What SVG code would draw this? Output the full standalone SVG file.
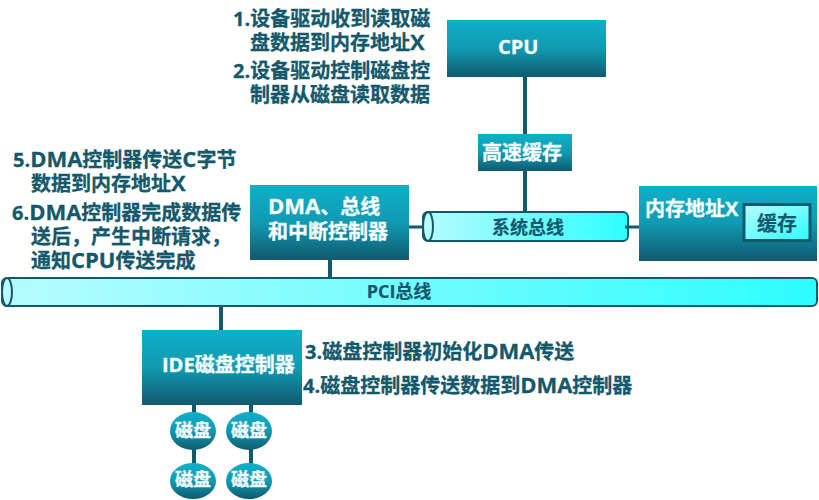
<svg xmlns="http://www.w3.org/2000/svg" width="819" height="500" viewBox="0 0 819 500">
  <defs>
    <linearGradient id="box" x1="0" y1="0" x2="0" y2="1">
      <stop offset="0" stop-color="#10b0c8"/>
      <stop offset="0.5" stop-color="#109ab2"/>
      <stop offset="1" stop-color="#115a6e"/>
    </linearGradient>
    <linearGradient id="bus" x1="0" y1="0" x2="1" y2="0">
      <stop offset="0" stop-color="#b8fcff"/>
      <stop offset="1" stop-color="#2cfdff"/>
    </linearGradient>
    <linearGradient id="chip" x1="0" y1="0" x2="1" y2="1">
      <stop offset="0" stop-color="#b8fcff"/>
      <stop offset="1" stop-color="#2cfdff"/>
    </linearGradient>
  </defs>
  <style>
    text { font-family: "Open Sans", "Noto Sans CJK SC", sans-serif; font-weight: 700; }
    .note { font-size: 20px; fill: #14596b; stroke: #14596b; stroke-width: 0.3px; }
    .head { font-size: 20px; fill: #ffffff; stroke: #d8f4f8; stroke-width: 0.4px; }
    .disk { font-size: 18px; fill: #ffffff; text-anchor: middle; stroke: #d8f4f8; stroke-width: 0.4px; }
    .bus-label { font-size: 18px; fill: #14596b; text-anchor: middle; stroke: #14596b; stroke-width: 0.2px; }
    .lat { font-size: 22px; }
    .box { fill: url(#box); }
    .tube { fill: url(#bus); stroke: #14596b; stroke-width: 2px; }
    .cap { fill: #b8fcff; stroke: #14596b; stroke-width: 2px; }
    .wire { stroke: #14596b; stroke-width: 4px; fill: none; }
    .wire-thin { stroke: #14596b; stroke-width: 3px; fill: none; }
  </style>

  <g id="connectors">
    <path class="wire" d="M525 77V134M525 171V212M330 260V278M221 307V330M194 405V414M194 449V464M251 405V414M251 449V464"/>
    <path class="wire-thin" d="M408 227H427M625 227H644"/>
  </g>

  <g id="cpu">
    <rect class="box" x="447" y="20" width="159" height="57"/>
    <text class="head" x="498" y="54">CPU</text>
  </g>
  <g id="cache">
    <rect class="box" x="478" y="134" width="94" height="37"/>
    <text class="head" x="482" y="160">高速缓存</text>
  </g>
  <g id="system-bus">
    <rect class="tube" x="423" y="212" width="205" height="29" rx="5" ry="5"/>
    <ellipse class="cap" cx="428" cy="226.500" rx="5" ry="14.500"/>
    <text class="bus-label" x="528" y="234">系统总线</text>
    <path class="wire-thin" d="M625 227H629"/>
  </g>
  <g id="memory">
    <rect class="box" x="639" y="186" width="178" height="75"/>
    <text class="head" x="645" y="216">内存地址X</text>
    <g id="memory-buffer">
      <rect x="744" y="204.500" width="66" height="36" fill="url(#chip)" stroke="#14596b" stroke-width="3"/>
      <text class="bus-label" x="777" y="231" style="font-size:20px">缓存</text>
    </g>
  </g>
  <g id="dma">
    <rect class="box" x="250" y="185" width="159" height="75"/>
    <text class="head" x="268" y="214"><tspan class="lat">DMA</tspan>、总线</text>
    <text class="head" x="268" y="239">和中断控制器</text>
  </g>
  <g id="pci-bus">
    <rect class="tube" x="2" y="278" width="815" height="28" rx="5" ry="5"/>
    <ellipse class="cap" cx="7" cy="292" rx="5" ry="14"/>
    <text class="bus-label" x="399" y="298">PCI总线</text>
  </g>
  <g id="ide">
    <rect class="box" x="142" y="330" width="160" height="75"/>
    <text class="head" x="162" y="372">IDE磁盘控制器</text>
  </g>
  <g id="disk-1">
    <ellipse class="box" cx="193" cy="431" rx="23" ry="19"/>
    <text class="disk" x="193" y="437">磁盘</text>
  </g>
  <g id="disk-2">
    <ellipse class="box" cx="249" cy="431" rx="23" ry="19"/>
    <text class="disk" x="249" y="437">磁盘</text>
  </g>
  <g id="disk-3">
    <ellipse class="box" cx="193" cy="481" rx="23" ry="18"/>
    <text class="disk" x="193" y="486">磁盘</text>
  </g>
  <g id="disk-4">
    <ellipse class="box" cx="249" cy="481" rx="23" ry="18"/>
    <text class="disk" x="249" y="486">磁盘</text>
  </g>

  <g id="notes">
    <text class="note" x="233" y="26">1.设备驱动收到读取磁</text>
    <text class="note" x="250" y="50">盘数据到内存地址<tspan class="lat">X</tspan></text>
    <text class="note" x="233" y="78">2.设备驱动控制磁盘控</text>
    <text class="note" x="250" y="102">制器从磁盘读取数据</text>
    <text class="note" x="13" y="167">5.<tspan class="lat">DMA</tspan>控制器传送<tspan class="lat">C</tspan>字节</text>
    <text class="note" x="31" y="191">数据到内存地址<tspan class="lat">X</tspan></text>
    <text class="note" x="12" y="220">6.<tspan class="lat">DMA</tspan>控制器完成数据传</text>
    <text class="note" x="31" y="244">送后，产生中断请求，</text>
    <text class="note" x="31" y="268">通知<tspan class="lat">CPU</tspan>传送完成</text>
    <text class="note" x="305" y="359">3.磁盘控制器初始化<tspan class="lat">DMA</tspan>传送</text>
    <text class="note" x="303" y="393">4.磁盘控制器传送数据到<tspan class="lat">DMA</tspan>控制器</text>
  </g>
</svg>
